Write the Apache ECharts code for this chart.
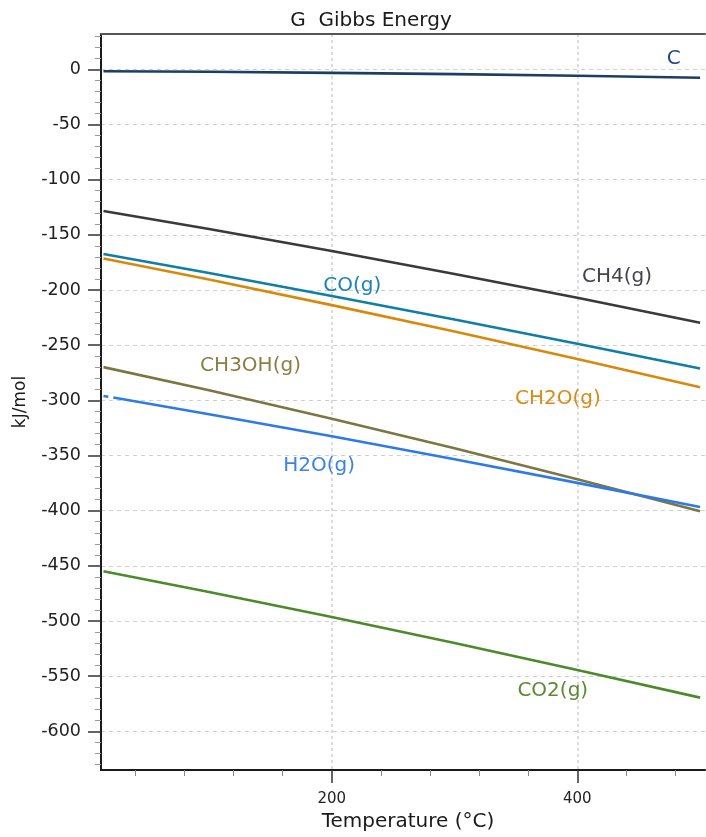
<!DOCTYPE html>
<html>
<head>
<meta charset="utf-8">
<title>G Gibbs Energy</title>
<script src="https://cdn.jsdelivr.net/npm/echarts@6/dist/echarts.min.js"></script>
<style>
  html, body { margin: 0; padding: 0; background: #ffffff; }
  #chart { width: 706px; height: 837px; }
</style>
</head>
<body>
<div id="chart"></div>
<script>
// Temperatures (°C) at which the Gibbs energies are tabulated
const TEMPS = [14, 100, 200, 300, 400, 500];

// Gibbs energy G (kJ/mol) of each species at TEMPS
const G_C     = [-1.7, -2.2, -3.2, -4.4, -5.9, -7.6];
const G_CH4   = [-128.4, -144.7, -164.6, -185.5, -207.1, -229.6];
const G_CO    = [-167.3, -184.6, -205.4, -226.8, -248.7, -271.1];
const G_CH2O  = [-171.4, -190.5, -213.7, -237.7, -262.6, -288.1];
const G_CH3OH = [-269.9, -290.9, -316.6, -343.5, -371.5, -400.5];
const G_CO2   = [-454.9, -473.6, -496.3, -519.9, -544.3, -569.4];

// Water vapour has a short break just after the first point
const H2O_TEMPS = [14, 18, 20, 22, 100, 200, 300, 400, 500];
const G_H2O     = [-296.0, -296.8, null, -297.5, -312.6, -332.6, -353.4, -374.8, -396.7];

// Axis tick values
const X_TICKS = [200, 400];
const Y_TICKS = [-600, -550, -500, -450, -400, -350, -300, -250, -200, -150, -100, -50, 0];

const FONT = '"DejaVu Sans", Verdana, sans-serif';

function pairs(xs, ys) {
  return xs.map((x, i) => [x, ys[i]]);
}

function lineSeries(name, xs, ys, color, labelColor, labelAt) {
  return {
    name: name,
    type: 'line',
    data: pairs(xs, ys),
    symbol: 'none',
    connectNulls: false,
    lineStyle: { color: color, width: 2.6 },
    itemStyle: { color: color },
    emphasis: { disabled: true },
    markPoint: {
      silent: true,
      symbol: 'circle',
      symbolSize: 1,
      itemStyle: { color: 'rgba(0,0,0,0)' },
      label: {
        show: true,
        position: 'inside',
        formatter: name,
        color: labelColor,
        fontFamily: FONT,
        fontSize: 20
      },
      data: [{ coord: labelAt }]
    }
  };
}

const chart = echarts.init(document.getElementById('chart'), null, { renderer: 'canvas' });

chart.setOption({
  animation: false,
  backgroundColor: '#ffffff',
  title: {
    text: 'G  Gibbs Energy',
    left: 366,
    top: 6,
    textAlign: 'center',
    textStyle: { fontFamily: FONT, fontSize: 20, fontWeight: 'normal', color: '#1a1a1a' }
  },
  grid: { left: 101, right: 1, top: 34, bottom: 67 },
  xAxis: [
    {
      type: 'value',
      position: 'bottom',
      min: 12,
      max: 504,
      splitNumber: 3,
      name: 'Temperature (°C)',
      nameLocation: 'middle',
      nameGap: 42,
      nameTextStyle: { fontFamily: FONT, fontSize: 20, color: '#1a1a1a', padding: [0, 0, 0, 10] },
      axisLine: { show: true, onZero: false, lineStyle: { color: '#1a1a1a', width: 2 } },
      axisTick: { show: true, inside: false, length: 13, customValues: X_TICKS, lineStyle: { color: '#333', width: 1.5 } },
      minorTick: { show: true, splitNumber: 5, length: 6, lineStyle: { color: '#888', width: 1 } },
      axisLabel: { customValues: X_TICKS, fontFamily: FONT, fontSize: 15, color: '#222', margin: 22 },
      splitLine: { show: true, lineStyle: { color: '#cfcfcf', width: 1.5, type: [3, 3] } }
    },
    {
      type: 'value',
      position: 'top',
      min: 12,
      max: 504,
      axisLine: { show: true, onZero: false, lineStyle: { color: '#555', width: 2 } },
      axisTick: { show: false },
      axisLabel: { show: false },
      splitLine: { show: false }
    }
  ],
  yAxis: {
    type: 'value',
    min: -635,
    max: 32,
    splitNumber: 13,
    name: 'kJ/mol',
    nameLocation: 'middle',
    nameGap: 72,
    nameRotate: 90,
    nameTextStyle: { fontFamily: FONT, fontSize: 17, color: '#1a1a1a' },
    axisLine: { show: true, onZero: false, lineStyle: { color: '#1a1a1a', width: 2 } },
    axisTick: { show: true, inside: false, length: 13, customValues: Y_TICKS, lineStyle: { color: '#333', width: 1.5 } },
    minorTick: { show: true, splitNumber: 5, length: 6, lineStyle: { color: '#999', width: 1 } },
    axisLabel: { customValues: Y_TICKS, fontFamily: FONT, fontSize: 17.5, color: '#222', margin: 20 },
    splitLine: { show: true, lineStyle: { color: '#cfcfcf', width: 1, type: [4, 4] } }
  },
  series: [
    lineSeries('C',        TEMPS,     G_C,     '#1b3d66', '#1f4a80', [478.5, 9.7]),
    lineSeries('CH4(g)',   TEMPS,     G_CH4,   '#3a3a3c', '#44444c', [432.3, -188.2]),
    lineSeries('CO(g)',    TEMPS,     G_CO,    '#0f7fa8', '#1a82b8', [216.6, -195.8]),
    lineSeries('CH2O(g)',  TEMPS,     G_CH2O,  '#d8890c', '#d98b14', [384.2, -298.2]),
    lineSeries('CH3OH(g)', TEMPS,     G_CH3OH, '#7c7742', '#8b8044', [133.8, -268.3]),
    lineSeries('H2O(g)',   H2O_TEMPS, G_H2O,   '#2f7be6', '#3a82e8', [189.6, -358.9]),
    lineSeries('CO2(g)',   TEMPS,     G_CO2,   '#4d8a2a', '#5a8a32', [380.0, -563.5])
  ]
});
</script>
</body>
</html>
